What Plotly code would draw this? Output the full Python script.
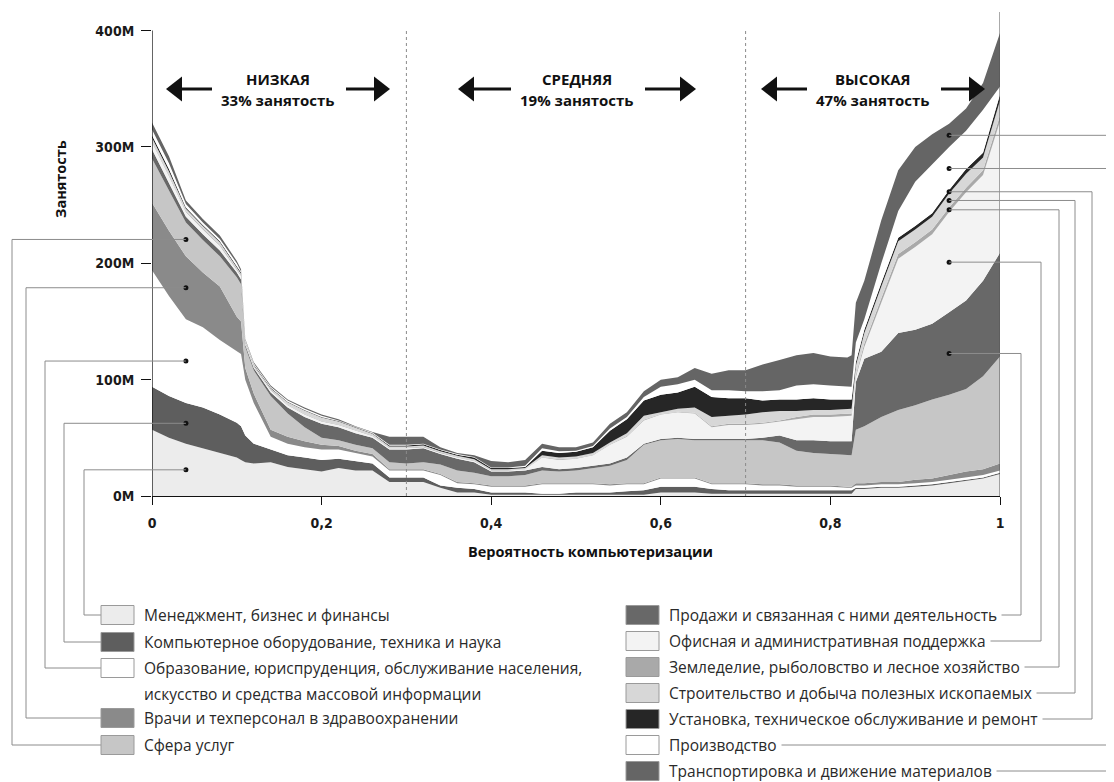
import plotly.graph_objects as go

# ---------------- data (values in millions) ----------------
X = [0, 0.02, 0.04, 0.06, 0.08, 0.10, 0.105, 0.11, 0.12, 0.14, 0.16, 0.18, 0.20, 0.22, 0.24,
     0.26, 0.28, 0.30, 0.32, 0.34, 0.36, 0.38, 0.40, 0.42, 0.44, 0.46, 0.48, 0.50, 0.52, 0.54,
     0.56, 0.58, 0.60, 0.62, 0.64, 0.66, 0.68, 0.70, 0.72, 0.74, 0.76, 0.78, 0.80, 0.82, 0.825,
     0.83, 0.84, 0.86, 0.88, 0.90, 0.92, 0.94, 0.96, 0.98, 1.00]

management = [57, 50, 45, 41, 37, 33, 31, 29, 28, 29, 25, 23, 21, 24, 22, 22, 12, 12, 12, 7,
              3, 3, 1, 1, 1, 1, 1, 1, 1, 1, 1, 1, 3, 3, 3, 2, 2, 2, 2, 2,
              2, 2, 2, 2, 2, 6, 6, 7, 7, 8, 9, 11, 13, 15, 19]
computer = [37, 36, 35, 35, 33, 30, 29, 23, 17, 11, 10, 10, 10, 8, 8, 6, 4, 4, 4, 2,
            4, 3, 2, 2, 2, 1, 1, 2, 2, 2, 3, 4, 5, 5, 5, 4, 3, 3, 3, 3,
            3, 3, 3, 3, 3, 1, 1, 1, 1, 1, 1, 1, 1, 1, 1]
education = [100, 86, 72, 69, 64, 61, 62, 48, 35, 11, 10, 9, 9, 8, 7, 6, 6, 6, 6, 9,
             4, 4, 5, 5, 5, 8, 8, 7, 7, 6, 6, 5, 7, 7, 7, 4, 5, 5, 4, 4,
             3, 3, 3, 2, 2, 2, 2, 2, 2, 2, 2, 2, 2, 2, 2]
healthcare = [58, 56, 54, 47, 46, 30, 28, 10, 8, 6, 6, 5, 4, 3, 2, 2, 1, 1, 1, 1,
              1, 1, 1, 1, 1, 1, 1, 1, 1, 1, 1, 1, 1, 1, 1, 1, 1, 1, 1, 1,
              1, 1, 1, 1, 1, 2, 2, 2, 2, 3, 3, 4, 5, 5, 6]
service = [38, 34, 29, 28, 26, 34, 32, 18, 20, 29, 20, 12, 6, 5, 5, 5, 6, 5, 6, 8,
           10, 9, 8, 8, 9, 11, 10, 11, 13, 16, 20, 33, 32, 33, 32, 37, 37, 37, 38, 36,
           30, 28, 27, 27, 27, 46, 49, 56, 62, 64, 68, 69, 71, 80, 92]
sales = [8, 7, 5, 5, 5, 4, 4, 2, 2, 3, 5, 9, 12, 11, 10, 9, 11, 12, 12, 9,
         10, 9, 4, 4, 4, 3, 2, 2, 2, 2, 2, 1, 1, 1, 1, 1, 1, 1, 2, 6,
         9, 11, 11, 12, 12, 41, 58, 56, 66, 65, 65, 71, 76, 82, 89]
office = [6, 6, 4, 4, 4, 3, 3, 1, 1, 2, 2, 2, 2, 2, 2, 1.5, 1, 1, 1, 1,
          1, 1, 1, 1, 1, 8, 8, 8, 9, 16, 18, 20, 21, 22, 22, 10, 12, 12, 12, 12,
          18, 20, 21, 22, 22, 4, 10, 42, 64, 71, 77, 86, 93, 91, 113]
farming = [1, 1, 1, 1, 1, 1, 1, 0.5, 0.5, 0.5, 0.5, 0.5, 0.5, 0.5, 0.5, 0.5, 0.5, 0.5, 0.5, 0.5,
           0.5, 0.5, 0.3, 0.3, 0.3, 0.5, 0.5, 0.5, 0.5, 0.5, 0.5, 0.5, 0.5, 0.5, 0.5, 1, 1, 1, 1, 1,
           2, 2, 2, 2, 2, 2, 3, 4, 4, 4, 4, 4, 4, 4, 5]
construction = [3, 3, 2, 2, 2, 1, 1, 1, 1, 1, 2, 3, 3, 2.5, 2, 1.5, 1, 1, 1, 1,
                1, 1, 0.7, 0.7, 0.7, 1.5, 1.5, 1.5, 1.5, 1.5, 2.5, 3.5, 1.5, 2.5, 4.5, 8, 7, 8, 9, 8,
                5, 4, 4, 4, 4, 8, 9, 10, 11, 11, 11, 12, 12, 11, 13]
installation = [2, 2, 1, 1, 1, 1, 1, 0.5, 0.5, 0.5, 0.5, 0.5, 0.5, 0.5, 0.5, 0.5, 1, 1, 1, 1,
                1, 1.5, 1, 1, 1, 4, 4, 4, 5, 10, 12, 13, 15, 14, 18, 17, 15, 14, 10, 10,
                10, 10, 9, 8, 8, 3, 3, 3, 3, 3, 3, 3, 4, 4, 5]
production = [5, 5, 3, 2, 2, 2, 1, 1, 1, 1, 1, 1, 1, 0.5, 0.5, 0.5, 0.5, 0.5, 0.5, 0.5,
              0.5, 0.5, 0.5, 0.5, 1, 2, 1.5, 1, 1, 2, 2, 3, 7, 7, 6, 6, 7, 6, 8, 8,
              12, 12, 12, 11, 11, 17, 9, 17, 23, 38, 42, 37, 33, 37, 7]
transportation = [6, 6, 3, 3, 3, 2, 2, 1, 1, 1, 1, 1, 1, 1, 0.5, 0.5, 7, 7, 6, 2,
                  1, 1.5, 5.5, 4.5, 5, 4, 3.5, 3, 3, 4, 4, 5, 6, 6, 10, 14, 17, 18, 23, 26,
                  26, 27, 25, 25, 27, 34, 33, 37, 35, 30, 26, 20, 19, 23, 46]

names = ["Менеджмент, бизнес и финансы",
         "Компьютерное оборудование, техника и наука",
         "Образование, юриспруденция, обслуживание населения, искусство и средства массовой информации",
         "Врачи и техперсонал в здравоохранении",
         "Сфера услуг",
         "Продажи и связанная с ними деятельность",
         "Офисная и административная поддержка",
         "Земледелие, рыболовство и лесное хозяйство",
         "Строительство и добыча полезных ископаемых",
         "Установка, техническое обслуживание и ремонт",
         "Производство",
         "Транспортировка и движение материалов"]
series = [management, computer, education, healthcare, service, sales, office,
          farming, construction, installation, production, transportation]
colors = ["#ececec", "#5e5e5e", "#ffffff", "#8a8a8a", "#c6c6c6", "#686868",
          "#f3f3f3", "#a9a9a9", "#d7d7d7", "#262626", "#ffffff", "#656565"]

x_ticks = [0, 0.2, 0.4, 0.6, 0.8, 1]
x_ticktext = ["0", "0,2", "0,4", "0,6", "0,8", "1"]
y_ticks = [0, 100, 200, 300, 400]
y_ticktext = ["0M", "100M", "200M", "300M", "400M"]
zone_titles = ["НИЗКАЯ", "СРЕДНЯЯ", "ВЫСОКАЯ"]
zone_shares = ["33% занятость", "19% занятость", "47% занятость"]
zone_bounds = [0.3, 0.7]

# ---------------- geometry (screen pixels; page body has an 8px margin) ----------------
BODY = 8
W_FIG, H_FIG = 1114 - BODY, 782 - BODY
L, T = 152, 12           # plot-area origin on screen
PW, PH = 848, 484
YMAX = 416

def P(px, py):
    return (px - L) / PW, (T + PH - py) / PH

def dpx(x):
    return L + PW * x

def dpy(y):
    return T + PH - PH * y / YMAX

fig = go.Figure()
for name, vals, col in zip(names, series, colors):
    fig.add_trace(go.Scatter(x=X, y=vals, mode="lines", stackgroup="one",
                             line=dict(width=0, color=col), fillcolor=col,
                             name=name, hoverinfo="skip"))

shapes = []
annotations = []
GRAY = "#8c8c8c"

def seg(x0, y0, x1, y1, color=GRAY, width=1):
    a = P(x0, y0)
    b = P(x1, y1)
    shapes.append(dict(type="line", xref="paper", yref="paper",
                       x0=a[0], y0=a[1], x1=b[0], y1=b[1],
                       line=dict(color=color, width=width), layer="above"))

def mid(idx, k):
    below = sum(series[j][idx] for j in range(k))
    return below + series[k][idx] / 2

# zone boundaries (dotted)
for xb in zone_bounds:
    shapes.append(dict(type="line", xref="x", yref="y", x0=xb, x1=xb, y0=0, y1=400,
                       line=dict(color="#8a8a8a", width=1, dash="dot"), layer="above"))
# y axis line (0..400) and right edge line
shapes.append(dict(type="line", xref="x", yref="y", x0=0, x1=0, y0=0, y1=400,
                   line=dict(color="#111", width=1.3), layer="above"))
shapes.append(dict(type="line", xref="x", yref="paper", x0=1, x1=1, y0=0, y1=1,
                   line=dict(color="#555", width=1), layer="above"))

# zone headers with arrows
HEAD_FONT = dict(family="Open Sans", size=15, color="#111")
for title, sub, cxp, half in zip(zone_titles, zone_shares, [278, 577, 873], [112, 119, 112]):
    ax, ay = P(cxp, 79)
    annotations.append(dict(x=ax, y=ay, xref="paper", yref="paper", text="<b>" + title + "</b>",
                            showarrow=False, xanchor="center", yanchor="middle", font=HEAD_FONT))
    ax, ay = P(cxp, 100)
    annotations.append(dict(x=ax, y=ay, xref="paper", yref="paper", text="<b>" + sub + "</b>",
                            showarrow=False, xanchor="center", yanchor="middle", font=HEAD_FONT))
    yA = 89
    seg(cxp - half + 14, yA, cxp - 66, yA, color="#111", width=3)
    seg(cxp + 68, yA, cxp + half - 14, yA, color="#111", width=3)
    for tip, base in [(cxp - half, cxp - half + 16), (cxp + half, cxp + half - 16)]:
        p1 = P(tip, yA)
        p2 = P(base, yA - 12.5)
        p3 = P(base, yA + 12.5)
        shapes.append(dict(type="path", xref="paper", yref="paper",
                           path=f"M {p1[0]},{p1[1]} L {p2[0]},{p2[1]} L {p3[0]},{p3[1]} Z",
                           fillcolor="#111", line=dict(width=0), layer="above"))

# axis titles
ax, ay = P(590, 551)
annotations.append(dict(x=ax, y=ay, xref="paper", yref="paper", text="<b>Вероятность компьютеризации</b>",
                        showarrow=False, xanchor="center", yanchor="middle",
                        font=dict(family="Open Sans", size=14.5, color="#111")))
ax, ay = P(60, 179)
annotations.append(dict(x=ax, y=ay, xref="paper", yref="paper", text="<b>Занятость</b>", textangle=-90,
                        showarrow=False, xanchor="center", yanchor="middle",
                        font=dict(family="Open Sans", size=14.5, color="#111")))

# legend + connectors
idx_l = X.index(0.04)
idx_r = X.index(0.94)
dots_x, dots_y = [], []

left_items = [(0, 84, 615), (1, 64, 642), (2, 45, 668), (3, 26, 718), (4, 12, 745)]
right_items = [(5, 1021, 615), (6, 1041, 641), (7, 1059, 667), (8, 1075, 693),
               (9, 1092, 719), (10, 1108, 745), (11, 1113, 771)]

LTXT = {0: ["Менеджмент, бизнес и финансы"],
        1: ["Компьютерное оборудование, техника и наука"],
        2: ["Образование, юриспруденция, обслуживание населения,",
            "искусство и средства массовой информации"],
        3: ["Врачи и техперсонал в здравоохранении"],
        4: ["Сфера услуг"]}

LEG_FONT = dict(family="Open Sans", size=15.5, color="#2a2a2a")

for k, vx, ry in left_items:
    ym = mid(idx_l, k)
    dx, dy = dpx(X[idx_l]), dpy(ym)
    dots_x.append(X[idx_l]); dots_y.append(ym)
    seg(vx, dy, dx, dy)
    seg(vx, dy, vx, ry)
    seg(vx, ry, 101, ry)
    a = P(101, ry - 9.5); b = P(134, ry + 9.5)
    shapes.append(dict(type="rect", xref="paper", yref="paper", x0=a[0], y0=a[1], x1=b[0], y1=b[1],
                       fillcolor=colors[k], line=dict(color="#9a9a9a", width=1), layer="above"))
    for i, line in enumerate(LTXT[k]):
        tx, ty = P(142, ry + 25.5 * i)
        annotations.append(dict(x=tx, y=ty, xref="paper", yref="paper", text=line, showarrow=False,
                                xanchor="left", yanchor="middle", font=LEG_FONT))

for k, vx, ry in right_items:
    ym = mid(idx_r, k)
    dx, dy = dpx(X[idx_r]), dpy(ym)
    dots_x.append(X[idx_r]); dots_y.append(ym)
    seg(dx, dy, vx, dy)
    seg(vx, dy, vx, ry)
    seg(vx, ry, 675, ry)
    a = P(626, ry - 9.5); b = P(659, ry + 9.5)
    shapes.append(dict(type="rect", xref="paper", yref="paper", x0=a[0], y0=a[1], x1=b[0], y1=b[1],
                       fillcolor=colors[k], line=dict(color="#9a9a9a", width=1), layer="above"))
    tx, ty = P(668, ry)
    annotations.append(dict(x=tx, y=ty, xref="paper", yref="paper", text=names[k] + "\u00a0",
                            showarrow=False, xanchor="left", yanchor="middle", font=LEG_FONT,
                            bgcolor="white", borderpad=0))

fig.add_trace(go.Scatter(x=dots_x, y=dots_y, mode="markers", cliponaxis=False,
                         marker=dict(color="#111", size=5), hoverinfo="skip", showlegend=False))

TICKFONT = dict(family="Liberation Sans Narrow, DejaVu Sans Condensed, Open Sans", size=14, color="#1a1a1a")
fig.update_xaxes(range=[0, 1], tickvals=x_ticks, ticktext=["<b>" + t + "</b>" for t in x_ticktext],
                 ticks="outside", ticklen=8, tickwidth=1.3, tickcolor="#111",
                 showline=True, linecolor="#111", linewidth=1.3, showgrid=False, zeroline=False,
                 tickfont=TICKFONT, ticklabelstandoff=6)
fig.update_yaxes(range=[0, YMAX], tickvals=y_ticks, ticktext=["<b>" + t + "</b>" for t in y_ticktext],
                 ticks="outside", ticklen=10, tickwidth=1.3, tickcolor="#111",
                 showline=False, showgrid=False, zeroline=False, tickfont=TICKFONT,
                 ticklabelstandoff=4)
fig.update_layout(width=W_FIG, height=H_FIG,
                  margin=dict(l=L - BODY, r=W_FIG - (L - BODY) - PW, t=T - BODY,
                              b=H_FIG - (T - BODY) - PH),
                  plot_bgcolor="white", paper_bgcolor="white", showlegend=False,
                  shapes=shapes, annotations=annotations)

fig.write_html("out.html")
